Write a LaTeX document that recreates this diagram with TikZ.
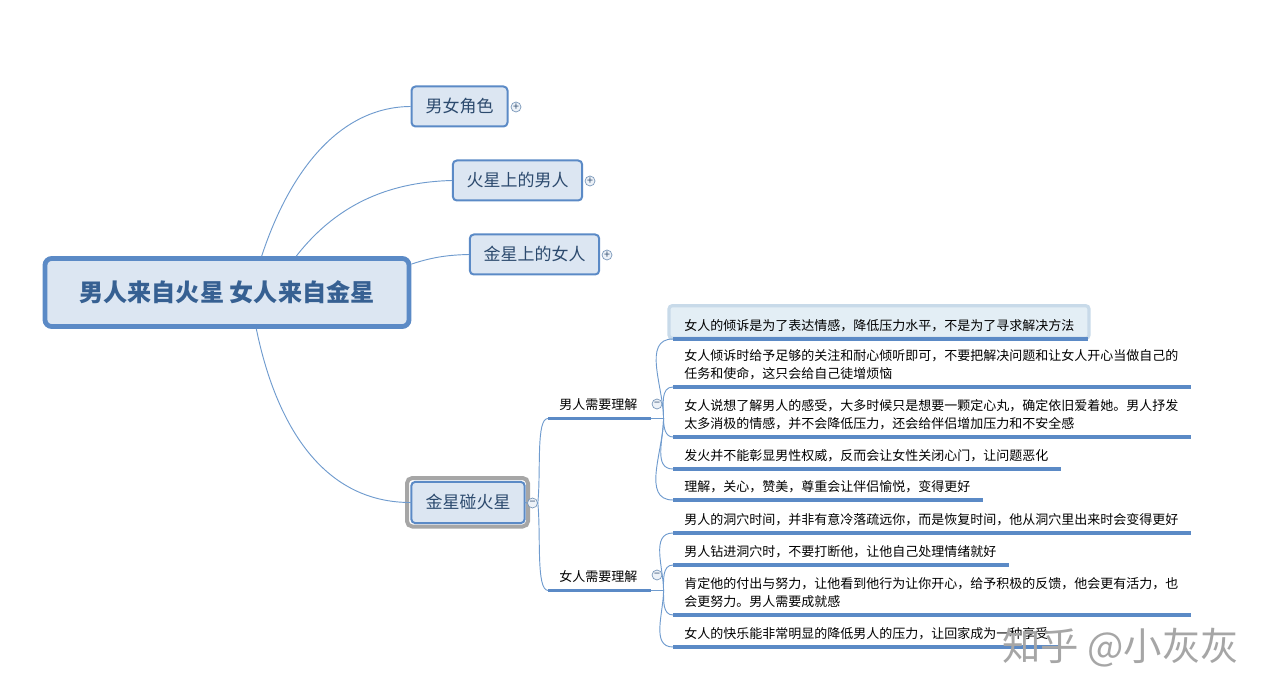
\documentclass[tikz,border=0pt]{standalone}
\usepackage{fontspec}
\setmainfont{Noto Sans CJK SC}
\usepackage{xcolor}
\usetikzlibrary{calc}
\definecolor{edge}{HTML}{5B8AC6}
\definecolor{panel}{HTML}{DCE6F2}
\definecolor{ink}{HTML}{2C4A6E}
\definecolor{title}{HTML}{366092}
\definecolor{wire}{HTML}{6F9BCE}
\definecolor{halo}{HTML}{A6A6A6}
\definecolor{glow}{HTML}{C8DAE9}
\definecolor{glowfill}{HTML}{E3EEF5}
\tikzset{
  root/.style={draw=edge, fill=panel, line width=3.6pt, rounded corners=5pt, minimum width=273pt, minimum height=51pt, text=title, font=\fontsize{18.1}{20}\selectfont\bfseries},
  topic/.style={draw=edge, fill=panel, line width=1.5pt, rounded corners=3pt, minimum height=30pt, text=ink, text depth=1.5pt, font=\fontsize{12.75}{15}\selectfont},
  sub/.style={anchor=south west, inner xsep=8.25pt, inner ysep=5.9pt, text width=60pt, font=\fontsize{9.75}{13}\selectfont},
  leaf/.style={anchor=south west, inner xsep=8.25pt, inner ysep=5.5pt, align=left, font=\fontsize{9.75}{13.5}\selectfont},
  rule/.style={draw=edge, line width=2.4pt},
  link/.style={draw=wire, line width=0.7pt},
  toggle/.style={circle, draw=wire!70!gray, fill=panel!50, line width=0.5pt, minimum size=7.5pt, inner sep=0pt, text=ink, font=\fontsize{8}{8}\selectfont},
  hilite/.style={draw=glow, fill=glowfill, line width=2.4pt, rounded corners=2.5pt, minimum width=315pt, minimum height=24.5pt},
}
\begin{document}
\begin{tikzpicture}[x=0.75pt,y=-0.75pt]
  \useasboundingbox (0,0) rectangle (1270,698);
  % main nodes
  \node[root] (book) at (227,292.5) {男人来自火星 女人来自金星};
  \node[topic,minimum width=72pt] (roles) at (459.5,106.5) {男女角色};
  \node[topic,minimum width=97pt] (mars) at (517.5,180.5) {火星上的男人};
  \node[topic,minimum width=97pt] (venus) at (534.5,254.5) {金星上的女人};
  \draw[halo,line width=3pt,rounded corners=4pt] (407,478) rectangle (528,526.5);
  \node[topic,minimum width=85pt,minimum height=31pt,outer sep=0pt] (meet) at (468,502.5) {金星碰火星};
  \node[toggle] (trol) at (516,107) {+};
  \node[toggle] (tmar) at (590,181) {+};
  \node[toggle] (tven) at (607,255) {+};
  \node[toggle] (tmee) at (532.5,503) {−};
  % curves from the root
  \draw[link] ([xshift=26pt]book.north) .. controls (290,170) and (340,107) .. (roles.west);
  \draw[link] ([xshift=52pt]book.north) .. controls (340,200) and (395,182) .. (mars.west);
  \draw[link] ([yshift=-6pt]book.north east) .. controls (430,258) and (445,255) .. (venus.west);
  \draw[link] ([xshift=22pt]book.south) .. controls (275,420) and (320,503) .. (meet.west);
  % second level
  \node[sub] (men) at (548,418.5) {男人需要理解};
  \node[sub] (women) at (548,590.5) {女人需要理解};
  \draw[rule] (men.south west) -- (men.south east);
  \draw[rule] (women.south west) -- (women.south east);
  \node[toggle] (tmen) at (657,404) {−};
  \node[toggle] (twom) at (657,575) {−};
  \draw[link] (meet.east) -- (tmee.west);
  \draw[link] (tmee.east) .. controls (541,470) and (536,418) .. (men.south west);
  \draw[link] (tmee.east) .. controls (541,536) and (536,590) .. (women.south west);
  \draw[link] (men.south east) -- ++(13,0) coordinate (hubm);
  \draw[link] (women.south east) -- ++(13,0) coordinate (hubw);
  % leaves
  \node[hilite] (lfbox) at (879,322) {};
  \foreach \lfname/\lfy/\lfw/\lftxt in {
    lfa/338/294pt/{女人的倾诉是为了表达情感，降低压力水平，不是为了寻求解决方法},
    lfb/386/371.25pt/{女人倾诉时给予足够的关注和耐心倾听即可，不要把解决问题和让女人开心当做自己的\\任务和使命，这只会给自己徒增烦恼},
    lfc/436/371.25pt/{女人说想了解男人的感受，大多时候只是想要一颗定心丸，确定依旧爱着她。男人抒发\\太多消极的情感，并不会降低压力，还会给伴侣增加压力和不安全感},
    lfd/468/273.75pt/{发火并不能彰显男性权威，反而会让女性关闭心门，让问题恶化},
    lfe/499/215.25pt/{理解，关心，赞美，尊重会让伴侣愉悦，变得更好},
    lff/532/371.25pt/{男人的洞穴时间，并非有意冷落疏远你，而是恢复时间，他从洞穴里出来时会变得更好},
    lfg/564/234.75pt/{男人钻进洞穴时，不要打断他，让他自己处理情绪就好},
    lfh/614/371.25pt/{肯定他的付出与努力，让他看到他行为让你开心，给予积极的反馈，他会更有活力，也\\会更努力。男人需要成就感},
    lfi/646/273.75pt/{女人的快乐能非常明显的降低男人的压力，让回家成为一种享受}}
  {
    \node[leaf,text width=\lfw] (\lfname) at (673,\lfy+1) {\lftxt};
    \draw[rule] (\lfname.south west) -- (\lfname.south east);
  }
  \foreach \lf in {lfa,lfb} \draw[link] (hubm) to[out=90,in=180] (\lf.south west);
  \foreach \lf in {lfc,lfd,lfe} \draw[link] (hubm) to[out=-90,in=180] (\lf.south west);
  \foreach \lf in {lff,lfg} \draw[link] (hubw) to[out=90,in=180] (\lf.south west);
  \foreach \lf in {lfh,lfi} \draw[link] (hubw) to[out=-90,in=180] (\lf.south west);
  \node[text=halo,font=\fontsize{28.8}{30}\selectfont] (zhihu) at (1120.5,648) {知乎 @小灰灰};
\end{tikzpicture}
\end{document}
